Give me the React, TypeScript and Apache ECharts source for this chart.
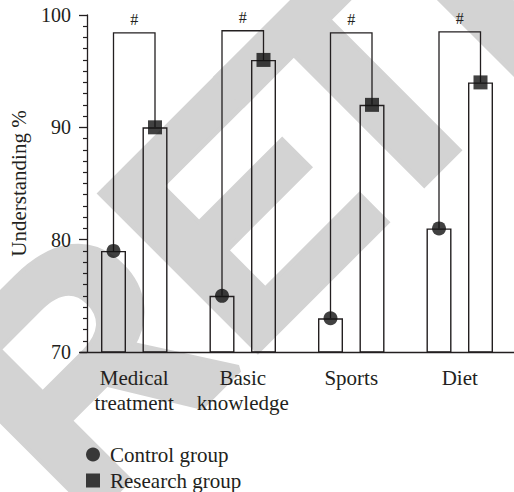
import React, { useEffect, useRef } from 'react';
import * as echarts from 'echarts';

// ---- data ----
const categories = ['Medical\ntreatment', 'Basic\nknowledge', 'Sports', 'Diet'];
const controlValues = [79, 75, 73, 81];
const researchValues = [90, 96, 92, 94];
const bracketTops = [98.4, 98.6, 98.4, 98.5];
const significance = ['#', '#', '#', '#'];
const yMin = 70;
const yMax = 100;
const yInterval = 10;
const legendNames = ['Control group', 'Research group'];
const watermarkParts = [
  { text: 'R', offset: 31 },
  { text: 'E', offset: 262 },
  { text: 'TRACTED', offset: 444 },
];

// ---- styles ----
const INK = '#231f20';
const GRAY = '#d3d3d3';
const SERIF = '"Liberation Serif", "Times New Roman", serif';
const BAR_WIDTH = 25;
const BAR_GAP_PX = 16.5;
const OFFSET = (BAR_WIDTH + BAR_GAP_PX) / 2;

export default function App() {
  const ref = useRef<HTMLDivElement>(null);

  useEffect(() => {
    if (!ref.current) return;
    const chart = echarts.init(ref.current, undefined, { renderer: 'svg' });

    const bracketData = categories.map((_, i) => [i, controlValues[i], researchValues[i], bracketTops[i]]);

    const option: any = {
      animation: false,
      backgroundColor: '#ffffff',
      grid: { left: 79, right: -13, top: 15, bottom: 140, containLabel: false },
      graphic: {
        elements: [
          {
            type: 'group',
            x: -21,
            y: 471,
            rotation: Math.PI / 4,
            z: -10,
            silent: true,
            children: watermarkParts.map((p) => ({
              type: 'text',
              x: p.offset,
              y: 0,
              z: -10,
              silent: true,
              style: {
                text: p.text,
                fontSize: 320,
                fontWeight: 'bold',
                fontFamily: '"Liberation Sans", Arial, sans-serif',
                fill: GRAY,
                stroke: GRAY,
                lineWidth: 8,
                textAlign: 'left',
                verticalAlign: 'middle',
              },
            })),
          },
        ],
      },
      legend: {
        orient: 'vertical',
        left: 86,
        top: 444,
        padding: 0,
        itemWidth: 24,
        itemHeight: 14,
        itemGap: 5,
        selectedMode: false,
        data: [
          { name: legendNames[0], icon: 'circle' },
          { name: legendNames[1], icon: 'path://M0,0L10,0L10,10L0,10Z' },
        ],
        textStyle: { fontSize: 21, fontFamily: SERIF, color: INK, lineHeight: 20 },
      },
      xAxis: {
        type: 'category',
        data: categories,
        axisLine: { lineStyle: { color: INK, width: 1.3 } },
        axisTick: { alignWithLabel: true, length: 9, lineStyle: { color: INK, width: 1.3 } },
        axisLabel: { interval: 0, fontSize: 21, fontFamily: SERIF, color: INK, lineHeight: 25, margin: 13 },
        splitLine: { show: false },
      },
      yAxis: {
        type: 'value',
        min: yMin,
        max: yMax,
        interval: yInterval,
        offset: -7,
        name: 'Understanding %',
        nameLocation: 'middle',
        nameGap: 58,
        nameTextStyle: { fontSize: 21, fontFamily: SERIF, color: INK },
        axisLine: { show: true, lineStyle: { color: INK, width: 1.3 } },
        axisTick: { show: true, length: 8, lineStyle: { color: INK, width: 1.3 } },
        minorTick: { show: true, splitNumber: 10, length: 4, lineStyle: { color: INK, width: 1.2 } },
        axisLabel: { fontSize: 20, fontFamily: SERIF, color: INK, margin: 16 },
        splitLine: { show: false },
      },
      series: [
        {
          type: 'bar',
          name: 'control-bars',
          data: controlValues,
          barWidth: BAR_WIDTH,
          barGap: (BAR_GAP_PX / BAR_WIDTH) * 100 + '%',
          itemStyle: { color: 'rgba(255,255,255,0)', borderColor: INK, borderWidth: 1.4 },
          z: 2,
          silent: true,
        },
        {
          type: 'bar',
          name: 'research-bars',
          data: researchValues,
          barWidth: BAR_WIDTH,
          barGap: (BAR_GAP_PX / BAR_WIDTH) * 100 + '%',
          itemStyle: { color: 'rgba(255,255,255,0)', borderColor: INK, borderWidth: 1.4 },
          z: 2,
          silent: true,
        },
        {
          type: 'custom',
          name: 'brackets',
          data: bracketData,
          z: 3,
          silent: true,
          renderItem: (params: any, api: any) => {
            const i = api.value(0);
            const c = api.coord([i, api.value(1)]);
            const r = api.coord([i, api.value(2)]);
            const t = api.coord([i, api.value(3)]);
            const xc = c[0] - OFFSET;
            const xr = r[0] + OFFSET;
            return {
              type: 'group',
              children: [
                {
                  type: 'polyline',
                  shape: { points: [[xc, c[1]], [xc, t[1]], [xr, t[1]], [xr, r[1]]] },
                  style: { stroke: INK, lineWidth: 1.3, fill: 'none' },
                },
                {
                  type: 'text',
                  x: (xc + xr) / 2,
                  y: t[1] - 5,
                  style: {
                    text: significance[params.dataIndex],
                    fontSize: 16,
                    fontFamily: SERIF,
                    fill: INK,
                    textAlign: 'center',
                    verticalAlign: 'bottom',
                  },
                },
              ],
            };
          },
        },
        {
          type: 'scatter',
          name: legendNames[0],
          data: controlValues,
          symbol: 'circle',
          symbolSize: 14,
          symbolOffset: [-OFFSET, 0],
          itemStyle: { color: '#121212' },
          z: 4,
          silent: true,
        },
        {
          type: 'scatter',
          name: legendNames[1],
          data: researchValues,
          symbol: 'rect',
          symbolSize: 14,
          symbolOffset: [OFFSET, 0],
          itemStyle: { color: '#121212' },
          z: 4,
          silent: true,
        },
      ],
    };

    chart.setOption(option);
    return () => chart.dispose();
  }, []);

  return <div ref={ref} style={{ position: 'absolute', left: 0, top: 0, width: 514, height: 492 }} />;
}
